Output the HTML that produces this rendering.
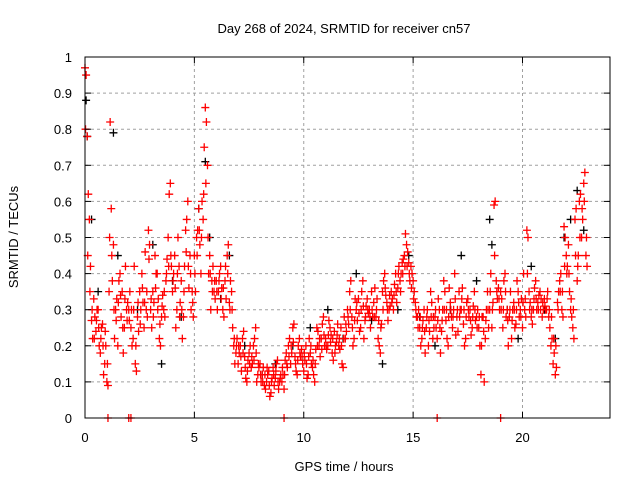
<!DOCTYPE html>
<html><head><meta charset="utf-8"><style>
body{margin:0;background:#fff}
svg{display:block;font-family:"Liberation Sans",sans-serif}
</style></head><body>
<svg id="chart" width="640" height="480" viewBox="0 0 640 480" xmlns="http://www.w3.org/2000/svg">
<rect width="640" height="480" fill="#fff"/>
<g id="grid"></g>
<g id="blackPts"></g>
<g id="redPts"></g>
<rect x="85" y="57" width="525" height="361" fill="none" stroke="#000" stroke-width="1"/>
<g id="ticks"></g>
<text x="344" y="33" font-size="13" text-anchor="middle">Day 268 of 2024, SRMTID for receiver cn57</text>
<text x="344" y="471" font-size="13" text-anchor="middle">GPS time / hours</text>
<text transform="translate(18,237) rotate(-90)" font-size="13" text-anchor="middle">SRMTID / TECUs</text>
</svg>
<script>
const xTicks=[0,5,10,15,20];
const yTicks=[0,0.1,0.2,0.3,0.4,0.5,0.6,0.7,0.8,0.9,1];
const yTickLabels=["0","0.1","0.2","0.3","0.4","0.5","0.6","0.7","0.8","0.9","1"];
const redA=[
0.97,0.78,0.55,0.27,0.33,0.24,0.3,0.18,0.26,0.15,
0.1,0.35,0.58,0.48,0.3,0.2,0.4,0.35,0.25,0.3,
0.3,0.25,0.22,0.15,0.28,0.35,0.4,0.25,0.3,0.52,
0.3,0.35,0.45,0.4,0.22,0.28,0.3,0.38,0.5,0.65,
0.35,0.45,0.3,0.42,0.38,0.28,0.52,0.6,0.45,0.35,
0.45,0.5,0.58,0.4,0.55,0.86,0.7,0.45,0.38,0.35,
0.38,0.35,0.42,0.3,0.38,0.45,0.32,0.35,0.2,0.18,
0.15,0.2,0.22,0.17,0.1,0.18,0.14,0.2,0.25,0.12,
0.15,0.12,0.09,0.1,0.13,0.07,0.14,0.11,0.16,0.1,
0.1,0.08,0.18,0.2,0.15,0.25,0.17,0.12,0.22,0.19,
0.13,0.2,0.12,0.18,0.14,0.1,0.25,0.2,0.22,0.28,
0.22,0.2,0.25,0.18,0.24,0.21,0.2,0.25,0.14,0.22,
0.3,0.35,0.28,0.22,0.3,0.33,0.25,0.38,0.27,0.33,
0.3,0.35,0.32,0.28,0.22,0.18,0.35,0.4,0.32,0.3,
0.35,0.3,0.4,0.36,0.38,0.43,0.45,0.48,0.43,0.42,
0.38,0.32,0.28,0.25,0.22,0.3,0.25,0.2,0.35,0.22,
0.28,0.22,0.3,0.24,0.38,0.27,0.2,0.32,0.25,0.4,
0.28,0.35,0.3,0.26,0.22,0.33,0.3,0.25,0.35,0.28,
0.25,0.12,0.28,0.22,0.35,0.3,0.25,0.59,0.38,0.36,
0.35,0.25,0.4,0.3,0.28,0.22,0.32,0.26,0.35,0.3,
0.25,0.3,0.52,0.35,0.28,0.3,0.38,0.32,0.35,0.28,
0.33,0.3,0.28,0.2,0.15,0.12,0.32,0.38,0.3,0.53,
0.45,0.48,0.3,0.25,0.55,0.38,0.6,0.5,0.65,0.45];
const redB=[
0.95,0.62,0.42,0.22,0.28,0.3,0.2,0.25,0.12,0.2,
0.09,0.82,0.38,0.22,0.33,0.38,0.28,0.18,0.42,0.32,
0.35,0.2,0.42,0.13,0.24,0.3,0.32,0.46,0.28,0.48,
0.25,0.32,0.4,0.33,0.2,0.34,0.28,0.44,0.62,0.42,
0.4,0.25,0.5,0.32,0.22,0.42,0.55,0.36,0.3,0.28,
0.35,0.52,0.48,0.6,0.75,0.82,0.4,0.3,0.42,0.33,
0.3,0.4,0.36,0.28,0.33,0.48,0.38,0.25,0.15,0.22,
0.18,0.13,0.24,0.11,0.16,0.2,0.15,0.22,0.1,0.14,
0.1,0.14,0.08,0.12,0.06,0.11,0.09,0.15,0.08,0.12,
0.12,0.16,0.14,0.22,0.18,0.26,0.13,0.2,0.17,0.15,
0.16,0.11,0.22,0.15,0.12,0.19,0.24,0.17,0.26,0.2,
0.19,0.27,0.23,0.16,0.2,0.26,0.19,0.15,0.28,0.24,
0.26,0.38,0.2,0.33,0.27,0.24,0.35,0.22,0.31,0.29,
0.25,0.28,0.36,0.33,0.2,0.26,0.38,0.34,0.27,0.31,
0.33,0.37,0.32,0.42,0.4,0.44,0.51,0.46,0.38,0.4,
0.35,0.28,0.3,0.2,0.27,0.18,0.3,0.24,0.32,0.25,
0.25,0.33,0.18,0.3,0.35,0.22,0.36,0.28,0.3,0.23,
0.24,0.3,0.36,0.2,0.32,0.28,0.23,0.31,0.27,0.3,
0.2,0.28,0.1,0.3,0.25,0.4,0.32,0.6,0.33,0.3,
0.33,0.38,0.28,0.2,0.35,0.3,0.25,0.38,0.28,0.33,
0.4,0.28,0.5,0.32,0.26,0.36,0.3,0.34,0.33,0.3,
0.3,0.35,0.25,0.22,0.18,0.14,0.35,0.4,0.28,0.5,
0.42,0.35,0.28,0.22,0.58,0.45,0.62,0.55,0.68,0.42];
const redC=[
0.8,0.45,0.35,0.3,0.22,0.27,0.25,0.22,0.2,0.24,
0.15,0.5,0.45,0.3,0.27,0.32,0.34,0.25,0.33,0.27,
0.27,0.3,0.3,0.2,0.32,0.26,0.36,0.32,0.35,0.44,
0.33,0.28,0.36,0.3,0.26,0.31,0.35,0.4,0.42,0.45,
0.38,0.36,0.4,0.28,0.3,0.35,0.46,0.42,0.4,0.32,
0.4,0.45,0.52,0.5,0.62,0.65,0.5,0.4,0.35,0.38,
0.35,0.38,0.33,0.36,0.42,0.4,0.3,0.3,0.22,0.2,
0.2,0.17,0.18,0.14,0.13,0.15,0.17,0.16,0.18,0.15,
0.12,0.1,0.12,0.14,0.09,0.1,0.12,0.13,0.1,0.11,
0.14,0.12,0.15,0.17,0.2,0.21,0.15,0.16,0.18,0.17,
0.18,0.15,0.17,0.2,0.16,0.15,0.2,0.22,0.19,0.23,
0.2,0.23,0.21,0.22,0.18,0.23,0.22,0.2,0.22,0.26,
0.28,0.3,0.25,0.27,0.32,0.29,0.3,0.31,0.28,0.3,
0.28,0.3,0.28,0.3,0.27,0.25,0.3,0.36,0.3,0.34,
0.32,0.34,0.35,0.4,0.35,0.4,0.42,0.42,0.4,0.36,
0.33,0.3,0.25,0.28,0.25,0.24,0.28,0.27,0.28,0.28,
0.3,0.27,0.25,0.27,0.3,0.3,0.28,0.3,0.28,0.33,
0.3,0.28,0.33,0.3,0.28,0.3,0.27,0.28,0.3,0.25,
0.28,0.2,0.24,0.27,0.3,0.35,0.3,0.45,0.35,0.33,
0.3,0.3,0.35,0.27,0.3,0.27,0.3,0.3,0.32,0.28,
0.32,0.33,0.4,0.3,0.3,0.33,0.33,0.3,0.3,0.32,
0.31,0.33,0.3,0.28,0.22,0.2,0.3,0.35,0.35,0.42,
0.4,0.4,0.33,0.3,0.45,0.42,0.5,0.58,0.6,0.5];
const zeroTimes=[1.05,2.0,2.1,9.1,16.1,19.0];
const blackTimes=[0.05,0.1,0.3,0.6,1.3,1.5,2.4,3.1,3.5,4.0,4.4,5.2,5.5,5.7,6.2,6.6,7.3,8.1,8.7,9.5,10.3,11.1,11.8,12.4,13.1,13.6,14.3,14.8,15.3,16.0,16.7,17.2,17.9,18.5,18.6,19.3,19.8,20.4,21.0,21.5,21.9,22.2,22.5,22.8];
const blackValues=[0.88,0.78,0.55,0.35,0.79,0.45,0.3,0.48,0.15,0.38,0.28,0.58,0.71,0.5,0.33,0.45,0.2,0.12,0.15,0.2,0.25,0.3,0.22,0.4,0.27,0.15,0.3,0.45,0.28,0.2,0.3,0.45,0.38,0.55,0.48,0.3,0.22,0.42,0.3,0.22,0.5,0.55,0.63,0.52];
const X0=85,X1=610,Y0=418,Y1=57,XMAX=24;
const sx=t=>X0+t*(X1-X0)/XMAX, sy=v=>Y0-v*(Y0-Y1);
const NS='http://www.w3.org/2000/svg';
function mk(tag,attrs,parent){const e=document.createElementNS(NS,tag);for(const k in attrs)e.setAttribute(k,attrs[k]);parent.appendChild(e);return e;}
const grid=document.getElementById('grid'),ticks=document.getElementById('ticks');
xTicks.forEach(t=>{const x=sx(t);
 if(t>0){const g=mk('line',{x1:x,x2:x,y1:Y1,y2:Y0,stroke:'#a0a0a0','stroke-dasharray':'3,3'},grid);
 
 }
 const a=mk('line',{x1:x,x2:x,y1:Y0,y2:Y0-6,stroke:'#000'},ticks);
 const b=mk('line',{x1:x,x2:x,y1:Y1,y2:Y1+6,stroke:'#000'},ticks);
 const l=mk('text',{x:x,y:442,'font-size':13,'text-anchor':'middle'},ticks);l.textContent=String(t);
 
 });
yTicks.forEach((v,i)=>{const y=sy(v);
 if(v>0&&v<1){const g=mk('line',{x1:X0,x2:X1,y1:y,y2:y,stroke:'#a0a0a0','stroke-dasharray':'3,3'},grid);
 
 }
 const a=mk('line',{x1:X0,x2:X0+6,y1:y,y2:y,stroke:'#000'},ticks);
 const b=mk('line',{x1:X1,x2:X1-6,y1:y,y2:y,stroke:'#000'},ticks);
 const l=mk('text',{x:72,y:y+5,'font-size':13,'text-anchor':'end'},ticks);l.textContent=yTickLabels[i];
 
 });
function plus(parent,t,v,color,name){const x=sx(t),y=sy(v);
 const p=mk('path',{d:`M${x-4},${y}H${x+4}M${x},${y-4}V${y+4}`,stroke:color,'stroke-width':1.3,fill:'none'},parent);
 
 }
const bp=document.getElementById('blackPts'),rp=document.getElementById('redPts');
blackTimes.forEach((t,i)=>plus(bp,t,blackValues[i],'#000','black-point'));
redA.forEach((v,i)=>plus(rp,i*0.1,v,'#f00','red-point'));
redB.forEach((v,i)=>plus(rp,i*0.1+0.05,v,'#f00','red-point'));
redC.forEach((v,i)=>plus(rp,i*0.1+0.025,v,'#f00','red-point'));
zeroTimes.forEach(t=>plus(rp,t,0,'#f00','zero-point'));
</script>
</body></html>
